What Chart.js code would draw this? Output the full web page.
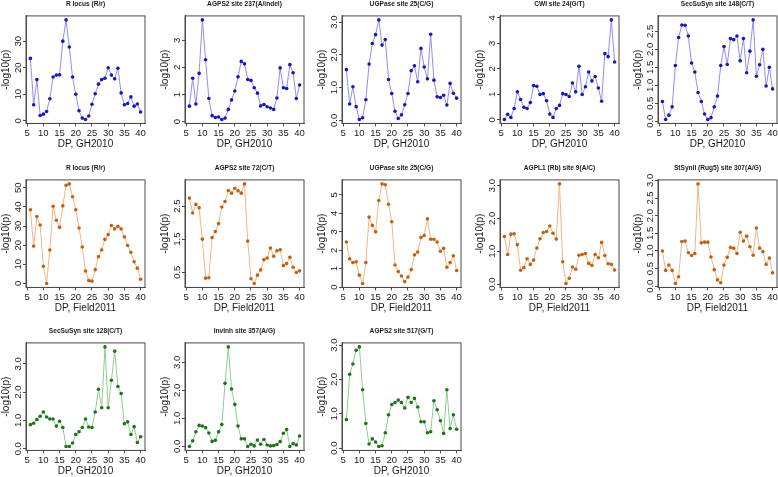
<!DOCTYPE html>
<html lang="en">
<head>
<meta charset="UTF-8">
<title>-log10(p) along DP</title>
<script src="https://cdn.jsdelivr.net/npm/chart.js"></script>
<style>
  html, body { margin: 0; padding: 0; background: #fff; overflow: hidden; }
  #wrap { position: relative; width: 778px; height: 477px; }
  #wrap canvas { position: absolute; }
</style>
</head>
<body>
<div id="wrap"></div>
<script>
// days post pollination (x axis)
const dp = [6, 7, 8, 9, 10, 11, 12, 13, 14, 15, 16, 17, 18, 19, 20, 21, 22, 23,
            24, 25, 26, 27, 28, 29, 30, 31, 32, 33, 34, 35, 36, 37, 38, 39, 40];
const xTicks = ['5', '10', '15', '20', '25', '30', '35', '40'];

// GH2010 (blue row)
const rLocusGH = [23.5, 6, 15.5, 2, 2.5, 3.5, 8.3, 16.5, 17.2, 17.3, 30, 38, 27.8, 16.5, 10, 3.8, 1, 0.5,
                  1.8, 6.2, 10.2, 13.8, 15.5, 16, 20, 17.2, 15.8, 19.8, 10.5, 6, 6.5, 9, 5.5, 6.3, 3.3];
const agps2s237 = [0.57, 1.6, 0.65, 1.78, 3.75, 2.28, 0.85, 0.22, 0.15, 0.17, 0.08, 0.13, 0.45, 0.8, 1.13, 1.65, 2.22, 2.13,
                   1.55, 1.52, 1.25, 1.05, 0.58, 0.63, 0.55, 0.5, 0.45, 0.87, 1.98, 1.25, 1.22, 2.1, 1.8, 0.85, 1.35];
const ugpaseGH = [1.55, 0.5, 1.03, 0.42, 0.03, 0.08, 0.63, 1.72, 2.35, 2.62, 3.07, 2.3, 2.47, 1.25, 0.82, 0.28, 0.06, 0.17,
                  0.48, 0.82, 1.52, 1.67, 1.18, 2.2, 1.63, 1.27, 2.63, 1.23, 0.72, 0.7, 0.77, 0.47, 1.13, 0.83, 0.68];
const cwi24 = [0.02, 0.22, 0.1, 0.45, 1.1, 0.8, 0.5, 0.45, 0.68, 1.35, 1.32, 1.0, 1.03, 0.75, 0.23, 0.1, 0.45, 0.57,
               1.03, 1.0, 0.92, 1.45, 1.1, 2.1, 1.0, 1.3, 1.88, 1.53, 1.7, 1.25, 0.73, 2.6, 2.48, 3.92, 2.27];
const secSuSyn148 = [0.55, 0.05, 0.17, 0.4, 1.55, 2.33, 2.68, 2.67, 2.37, 1.62, 1.37, 0.8, 0.55, 0.2, 0.05, 0.1, 0.4, 0.7,
                     1.55, 2.08, 1.58, 2.3, 2.27, 2.37, 1.68, 2.3, 1.35, 1.95, 2.82, 1.25, 1.57, 2.0, 0.98, 1.5, 0.9];

// Field2011 (orange row)
const rLocusField = [38.5, 19.5, 35, 30.5, 9, 0, 17.5, 40.3, 33, 29.3, 40.5, 51.3, 52, 45.3, 38.5, 29, 19, 6.5,
                     1.5, 1.2, 7.2, 14, 17.5, 23, 25.5, 30.3, 28.5, 29.8, 28.5, 24.3, 19.8, 16.3, 11.3, 8, 2.2];
const agps2s72 = [2.74, 2.29, 2.55, 2.45, 1.5, 0.32, 0.33, 1.55, 1.73, 1.97, 2.47, 2.64, 2.97, 2.89, 3.04, 2.96, 2.89, 3.17,
                  1.44, 0.3, 0.16, 0.41, 0.57, 0.88, 0.93, 1.23, 0.98, 1.15, 1.18, 0.7, 0.76, 0.95, 0.65, 0.49, 0.54];
const ugpaseField = [2.45, 1.53, 1.33, 1.37, 0.65, 0.2, 1.33, 3.8, 3.35, 3.0, 4.7, 5.6, 5.55, 4.5, 3.55, 1.2, 0.85, 0.6,
                     0.3, 0.55, 0.95, 1.75, 1.9, 2.7, 2.8, 3.7, 2.6, 2.6, 2.45, 1.95, 2.1, 1.08, 1.33, 1.7, 0.9];
const agpl1s9 = [1.45, 0.9, 1.52, 1.53, 1.2, 0.42, 0.5, 0.77, 0.6, 0.73, 1.1, 1.38, 1.57, 1.6, 1.77, 1.55, 1.37, 3.05,
                 0.68, 0.02, 0.18, 0.52, 0.45, 0.88, 0.9, 0.93, 0.63, 0.57, 0.9, 0.8, 1.27, 0.87, 0.62, 0.6, 0.43];
const stSynII307 = [1.0, 0.45, 0.6, 0.45, 0.08, 0.27, 1.27, 1.28, 0.95, 0.87, 0.93, 2.9, 1.23, 1.25, 1.25, 0.83, 0.47, 0.18,
                    0.1, 0.6, 0.82, 1.1, 1.08, 0.93, 1.53, 1.28, 1.42, 1.12, 0.88, 1.65, 1.08, 0.98, 0.62, 0.8, 0.38];

// GH2010 (green row)
const secSuSyn128 = [0.85, 0.9, 1.03, 1.15, 1.3, 1.12, 1.05, 1.05, 0.8, 0.97, 0.75, 0.08, 0.08, 0.2, 0.5, 0.6, 0.75, 1.05,
                     0.77, 0.75, 1.3, 2.1, 1.45, 3.6, 1.45, 2.42, 3.45, 2.2, 1.95, 0.88, 0.95, 0.5, 0.78, 0.22, 0.42];
const invInh357 = [0.0, 0.2, 0.52, 0.75, 0.73, 0.67, 0.48, 0.18, 0.22, 0.52, 0.78, 2.25, 3.55, 2.05, 1.5, 0.73, 0.27, 0.27,
                   0.0, 0.08, 0.02, 0.23, 0.08, 0.25, 0.05, 0.02, 0.03, 0.07, 0.17, 0.47, 0.6, 0.0, 0.1, 0.05, 0.37];
const agps2s517 = [0.83, 2.15, 2.45, 2.85, 2.95, 1.7, 0.72, 0.12, 0.27, 0.18, 0.05, 0.07, 0.45, 0.97, 1.27, 1.33, 1.4, 1.33,
                   1.17, 1.48, 1.33, 1.45, 1.2, 0.77, 0.77, 0.45, 0.48, 1.38, 1.12, 0.8, 0.43, 1.7, 0.57, 0.97, 0.55];

// y tick labels
const yTicksInt10 = ['0', '10', '20', '30'];
const yTicksInt10b = ['0', '10', '20', '30', '40', '50'];
const yTicks0to3 = ['0', '1', '2', '3'];
const yTicks0to4 = ['0', '1', '2', '3', '4'];
const yTicks0to5 = ['0', '1', '2', '3', '4', '5'];
const yTicksDec1 = ['0.0', '1.0', '2.0', '3.0'];
const yTicksHalf25 = ['0.0', '0.5', '1.0', '1.5', '2.0', '2.5'];
const yTicksHalf30 = ['0.0', '0.5', '1.0', '1.5', '2.0', '2.5', '3.0'];
const yTicksOdd = ['0.5', '1.5', '2.5'];

const colors = {
  blue:   { line: '#8f8ff0', point: '#1616c4' },
  orange: { line: '#f3b585', point: '#c4600f' },
  green:  { line: '#8ccf8c', point: '#1c731c' }
};

const panels = [
  { title: 'R locus (R/r)', env: 'GH2010', data: rLocusGH, yTicks: yTicksInt10, color: 'blue', row: 0, col: 0 },
  { title: 'AGPS2 site 237(A/indel)', env: 'GH2010', data: agps2s237, yTicks: yTicks0to3, color: 'blue', row: 0, col: 1 },
  { title: 'UGPase site 25(C/G)', env: 'GH2010', data: ugpaseGH, yTicks: yTicksDec1, color: 'blue', row: 0, col: 2 },
  { title: 'CWI site 24(G/T)', env: 'GH2010', data: cwi24, yTicks: yTicks0to4, color: 'blue', row: 0, col: 3 },
  { title: 'SecSuSyn site 148(C/T)', env: 'GH2010', data: secSuSyn148, yTicks: yTicksHalf25, color: 'blue', row: 0, col: 4 },
  { title: 'R locus (R/r)', env: 'Field2011', data: rLocusField, yTicks: yTicksInt10b, color: 'orange', row: 1, col: 0 },
  { title: 'AGPS2 site 72(C/T)', env: 'Field2011', data: agps2s72, yTicks: yTicksOdd, color: 'orange', row: 1, col: 1 },
  { title: 'UGPase site 25(C/G)', env: 'Field2011', data: ugpaseField, yTicks: yTicks0to5, color: 'orange', row: 1, col: 2 },
  { title: 'AGPL1 (Rb) site 9(A/C)', env: 'Field2011', data: agpl1s9, yTicks: yTicksDec1, color: 'orange', row: 1, col: 3 },
  { title: 'StSynII (Rug5) site 307(A/G)', env: 'Field2011', data: stSynII307, yTicks: yTicksHalf30, color: 'orange', row: 1, col: 4 },
  { title: 'SecSuSyn site 128(C/T)', env: 'GH2010', data: secSuSyn128, yTicks: yTicksDec1, color: 'green', row: 2, col: 0 },
  { title: 'InvInh site 357(A/G)', env: 'GH2010', data: invInh357, yTicks: yTicksDec1, color: 'green', row: 2, col: 1 },
  { title: 'AGPS2 site 517(G/T)', env: 'GH2010', data: agps2s517, yTicks: yTicksDec1, color: 'green', row: 2, col: 2 }
];

// plot box placement in the page
const boxLeft = [25.5, 184.5, 342, 499.5, 658];
const boxTop = [16, 179.5, 342.5];
const boxW = 119, boxH = 107.5;
const yAxisW = 26, xAxisH = 27, padR = 6, padT = 2;
const titleSize = 6.6, titlePadT = 2, titlePadB = 8;
const titleH = titleSize * 1.2 + titlePadT + titlePadB;
const canvasW = yAxisW + boxW + padR;
const canvasH = 156;

const fam = "'Liberation Sans Narrow', 'Liberation Sans', Arial, sans-serif";
const axisColor = '#4a4a4a';
const textColor = '#1a1a1a';
const tickFont = { family: fam, size: 9.5 };
const labelFont = { family: fam, size: 10 };

// R style: data range padded by 4%
function rRange(vals) {
  const lo = Math.min(...vals), hi = Math.max(...vals);
  const pad = (hi - lo) * 0.04;
  return [lo - pad, hi + pad];
}

const frame = {
  id: 'frame',
  afterDatasetsDraw(chart) {
    const { ctx, chartArea: a } = chart;
    ctx.save();
    ctx.strokeStyle = axisColor;
    ctx.lineWidth = 1;
    ctx.strokeRect(a.left, a.top, a.right - a.left, a.bottom - a.top);
    ctx.restore();
  }
};

const wrap = document.getElementById('wrap');

panels.forEach(p => {
  const canvas = document.createElement('canvas');
  canvas.width = canvasW;
  canvas.height = canvasH;
  canvas.style.width = canvasW + 'px';
  canvas.style.height = canvasH + 'px';
  canvas.style.left = (boxLeft[p.col] - yAxisW) + 'px';
  canvas.style.top = (boxTop[p.row] - padT - titleH) + 'px';
  wrap.appendChild(canvas);

  const [yMin, yMax] = rRange(p.data);
  const [xMin, xMax] = rRange(dp);
  const c = colors[p.color];

  // rotated y tick labels, like R's las = 0
  const yLabels = {
    id: 'yLabels',
    afterDraw(chart) {
      const { ctx, scales: { y } } = chart;
      ctx.save();
      ctx.fillStyle = textColor;
      ctx.font = tickFont.size + 'px ' + fam;
      ctx.textAlign = 'center';
      ctx.textBaseline = 'alphabetic';
      p.yTicks.forEach(t => {
        ctx.save();
        ctx.translate(chart.chartArea.left - 5.5, y.getPixelForValue(+t));
        ctx.rotate(-Math.PI / 2);
        ctx.fillText(t, 0, 0);
        ctx.restore();
      });
      ctx.restore();
    }
  };

  new Chart(canvas, {
    type: 'line',
    data: {
      datasets: [{
        data: dp.map((d, i) => ({ x: d, y: p.data[i] })),
        borderColor: c.line,
        borderWidth: 1,
        pointRadius: 1.8,
        pointBorderWidth: 0,
        pointBackgroundColor: c.point,
        pointBorderColor: c.point,
        tension: 0
      }]
    },
    options: {
      responsive: false,
      animation: false,
      layout: { padding: { top: padT, right: padR, bottom: canvasH - padT - titleH - boxH - xAxisH, left: 0 } },
      plugins: {
        legend: { display: false },
        tooltip: { enabled: false },
        title: {
          display: true,
          text: p.title,
          fullSize: false,
          color: textColor,
          font: { family: fam, size: titleSize, weight: 'bold', lineHeight: 1.2 },
          padding: { top: titlePadT, bottom: titlePadB }
        }
      },
      scales: {
        x: {
          type: 'linear',
          min: xMin,
          max: xMax,
          afterBuildTicks: s => { s.ticks = xTicks.map(t => ({ value: +t })); },
          afterFit: s => { s.height = xAxisH; },
          grid: { drawOnChartArea: false, tickLength: 3, color: axisColor },
          border: { color: axisColor },
          ticks: {
            autoSkip: false, maxRotation: 0, padding: 1,
            color: textColor, font: tickFont,
            callback: (v, i) => xTicks[i]
          },
          title: { display: true, text: 'DP, ' + p.env, color: textColor, font: labelFont, padding: { top: 0, bottom: 0 } }
        },
        y: {
          min: yMin,
          max: yMax,
          afterBuildTicks: s => { s.ticks = p.yTicks.map(t => ({ value: +t })); },
          afterFit: s => { s.width = yAxisW; },
          grid: { drawOnChartArea: false, tickLength: 3, color: axisColor },
          border: { color: axisColor },
          ticks: { display: false },
          title: { display: true, text: '-log10(p)', color: textColor, font: labelFont, padding: { top: 0, bottom: 0 } }
        }
      }
    },
    plugins: [frame, yLabels]
  });
});
</script>
</body>
</html>
